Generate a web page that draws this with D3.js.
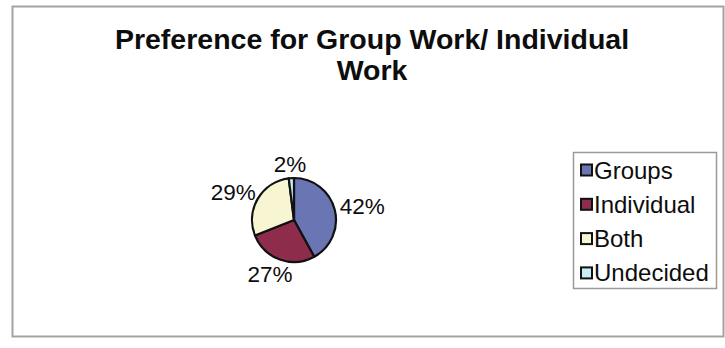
<!DOCTYPE html>
<html>
<head>
<meta charset="utf-8">
<script src="https://cdn.jsdelivr.net/npm/d3@7"></script>
<style>
  html, body { margin: 0; padding: 0; background: #fff; }
  svg { display: block; font-family: "Liberation Sans", Arial, sans-serif; }
</style>
</head>
<body>
<svg id="chart" width="725" height="348"></svg>
<script>
// Survey answers: preference for group work vs individual work (percent)
const categories = ["Groups", "Individual", "Both", "Undecided"];
const values = [42, 27, 29, 2];
const sliceColors = ["#6a76b3", "#8d2d4b", "#f8f5d3", "#c8eef3"];
const titleLines = ["Preference for Group Work/ Individual", "Work"];

const svg = d3.select("#chart");

// Chart frame
svg.append("rect")
  .attr("x", 12.5).attr("y", 6.5)
  .attr("width", 711).attr("height", 330)
  .attr("fill", "#fff")
  .attr("stroke", "#a3a3a3")
  .attr("stroke-width", 2);

// Title
svg.append("text")
  .attr("text-anchor", "middle")
  .attr("font-weight", "bold")
  .attr("font-size", 28.5)
  .attr("fill", "#0d0d0d")
  .selectAll("tspan")
  .data(titleLines)
  .join("tspan")
  .attr("x", 372)
  .attr("y", (d, i) => 49 + i * 31)
  .text(d => d);

// Pie
const cx = 294, cy = 220, r = 42;
const pie = d3.pie().sort(null).value(d => d.value);
const arcs = pie(categories.map((c, i) => ({ name: c, value: values[i] })));
const arc = d3.arc().innerRadius(0).outerRadius(r);
const color = d3.scaleOrdinal().domain(categories).range(sliceColors);

const g = svg.append("g").attr("transform", `translate(${cx},${cy})`);
g.selectAll("path")
  .data(arcs)
  .join("path")
  .attr("d", arc)
  .attr("fill", d => color(d.data.name))
  .attr("stroke", "#111")
  .attr("stroke-width", 2.2)
  .attr("stroke-linejoin", "round");

// Percentage labels outside the pie, box edge touching an outer ring
const labelSize = 22.5;
const gap = 6;
const fmt = v => v + "%";
const labels = g.selectAll("text.pct")
  .data(arcs)
  .join("text")
  .attr("class", "pct")
  .attr("font-size", labelSize)
  .attr("fill", "#0d0d0d")
  .attr("text-anchor", "middle")
  .text(d => fmt(d.data.value));

labels.each(function(d) {
  const a = (d.startAngle + d.endAngle) / 2;
  const s = Math.sin(a), c = -Math.cos(a);
  const w = this.getComputedTextLength();
  const h = labelSize * 0.75;
  const x = (r + gap) * s + s * w / 2;
  const y = (r + gap) * c + c * h / 2;
  d3.select(this).attr("x", x).attr("y", y + h / 2);
});

// Legend
const lx = 573, ly = 152, lw = 143, lh = 136;
const legend = svg.append("g");
legend.append("rect")
  .attr("x", lx + 0.5).attr("y", ly + 0.5)
  .attr("width", lw).attr("height", lh)
  .attr("fill", "#fff")
  .attr("stroke", "#9a9a9a")
  .attr("stroke-width", 1.5);

const ly0 = 170, lstep = 34.3;
const items = legend.selectAll("g.item")
  .data(categories)
  .join("g")
  .attr("class", "item")
  .attr("transform", (d, i) => `translate(${lx + 8},${ly0 + i * lstep})`);

items.append("rect")
  .attr("x", 0).attr("y", -5.5)
  .attr("width", 11).attr("height", 11)
  .attr("fill", d => color(d))
  .attr("stroke", "#111")
  .attr("stroke-width", 2);

items.append("text")
  .attr("x", 13)
  .attr("y", 8.5)
  .attr("font-size", 24)
  .attr("fill", "#0d0d0d")
  .text(d => d);
</script>
</body>
</html>
